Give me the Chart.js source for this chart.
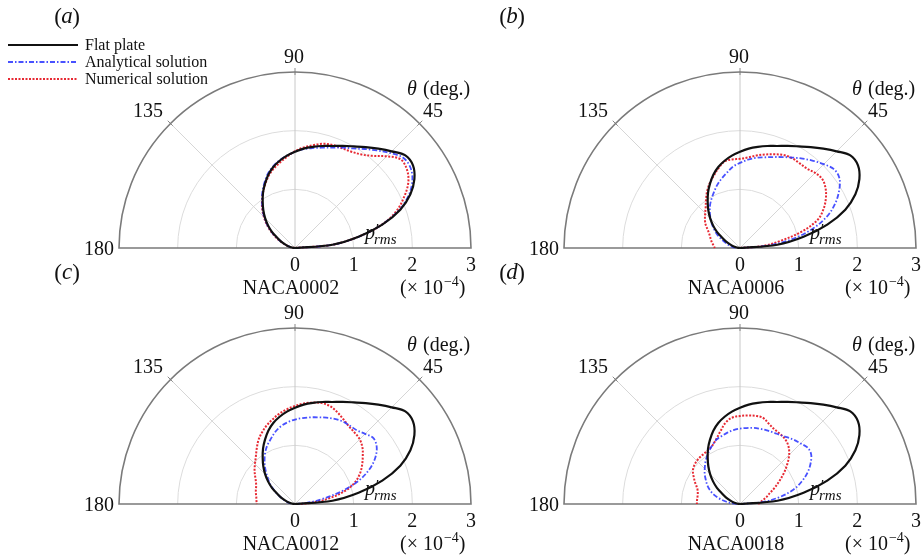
<!DOCTYPE html>
<html>
<head>
<meta charset="utf-8">
<script src="https://cdn.jsdelivr.net/npm/chart.js@4.4.1/dist/chart.umd.min.js"></script>
<style>
  body { margin: 0; background: #fff; }
  .panel { position: absolute; }
</style>
</head>
<body>
<div class="panel" style="left:0px;top:0px"><canvas id="pa" width="480" height="300"></canvas></div>
<div class="panel" style="left:440px;top:0px"><canvas id="pb" width="483" height="300"></canvas></div>
<div class="panel" style="left:0px;top:256px"><canvas id="pc" width="480" height="300"></canvas></div>
<div class="panel" style="left:440px;top:256px"><canvas id="pd" width="483" height="300"></canvas></div>
<script>
// polar angle (deg) and p'rms (x 1e-4)
const thetaDeg = [0,5,10,15,20,25,30,35,40,45,50,55,60,65,70,75,80,85,90,95,100,105,110,115,120,125,130,135,140,145,150,155,160,165,170,175,180];

const flatPlate = [0,0.64,1.10,1.54,1.91,2.17,2.35,2.455,2.455,2.33,2.21,2.10,2.00,1.92,1.85,1.80,1.75,1.70,1.64,1.58,1.51,1.43,1.33,1.21,1.09,0.96,0.84,0.72,0.60,0.48,0.35,0.26,0.18,0.12,0.07,0.03,0];

const analytical0002 = [0,0.64,1.10,1.53,1.89,2.14,2.31,2.40,2.40,2.29,2.17,2.06,1.96,1.89,1.82,1.77,1.73,1.69,1.64,1.58,1.52,1.44,1.35,1.23,1.11,0.98,0.86,0.74,0.62,0.50,0.37,0.27,0.19,0.12,0.07,0.03,0];
const numerical0002 = [0,0.64,1.09,1.53,1.84,2.05,2.23,2.33,2.35,2.21,2.05,1.95,1.90,1.88,1.87,1.84,1.78,1.72,1.65,1.56,1.48,1.40,1.31,1.20,1.09,0.98,0.87,0.75,0.63,0.51,0.39,0.28,0.19,0.12,0.07,0.03,0];

const analytical0006 = [0,0.50,0.93,1.29,1.58,1.79,1.95,2.07,2.09,2.02,1.94,1.86,1.78,1.71,1.65,1.60,1.56,1.51,1.45,1.39,1.30,1.22,1.14,1.05,0.97,0.89,0.80,0.71,0.62,0.53,0.44,0.34,0.26,0.20,0.14,0.08,0];
const numerical0006 = [0,0.40,0.70,1.10,1.41,1.57,1.69,1.78,1.83,1.81,1.77,1.765,1.77,1.75,1.70,1.65,1.60,1.55,1.52,1.515,1.50,1.41,1.31,1.22,1.12,1.01,0.91,0.84,0.78,0.72,0.64,0.58,0.54,0.51,0.48,0.45,0.43];

const analytical0012 = [0,0.20,0.45,0.81,1.15,1.40,1.58,1.70,1.745,1.69,1.64,1.63,1.625,1.60,1.565,1.53,1.50,1.47,1.44,1.40,1.35,1.28,1.19,1.11,1.015,0.905,0.79,0.67,0.57,0.46,0.36,0.27,0.19,0.14,0.09,0.05,0];
const numerical0012 = [0.10,0.33,0.62,0.90,1.09,1.22,1.32,1.41,1.50,1.56,1.585,1.61,1.66,1.72,1.77,1.78,1.755,1.72,1.67,1.62,1.56,1.49,1.42,1.34,1.25,1.14,1.04,0.965,0.90,0.83,0.77,0.73,0.71,0.69,0.67,0.66,0.65];

const analytical0018 = [0,0.40,0.69,0.94,1.12,1.27,1.39,1.48,1.50,1.46,1.43,1.39,1.36,1.345,1.335,1.327,1.318,1.30,1.285,1.265,1.235,1.20,1.17,1.11,1.05,0.985,0.92,0.85,0.785,0.71,0.645,0.57,0.48,0.37,0.245,0.12,0];
const numerical0018 = [0.31,0.35,0.40,0.47,0.54,0.65,0.77,0.91,1.05,1.185,1.285,1.345,1.375,1.40,1.45,1.52,1.525,1.515,1.50,1.48,1.41,1.285,1.18,1.105,1.07,1.055,1.05,1.04,1.02,0.98,0.91,0.84,0.775,0.745,0.735,0.735,0.735];

const seriesNames = ['Flat plate', 'Analytical solution', 'Numerical solution'];
const airfoils = ['NACA0002', 'NACA0006', 'NACA0012', 'NACA0018'];
const panelTags = ['a', 'b', 'c', 'd'];
const radialTicks = ['0', '1', '2', '3'];
const angleLabels = ['45', '90', '135'];

const SERIF = '"Liberation Serif", "DejaVu Serif", serif';

function toPoints(r) {
    return thetaDeg.map(function(t, i) {
        const a = t * Math.PI / 180;
        return { x: r[i] * Math.cos(a), y: r[i] * Math.sin(a) };
    });
}

const polarFrame = {
    id: 'polarFrame',
    beforeDatasetsDraw(chart) {
        const ctx = chart.ctx;
        const xs = chart.scales.x, ys = chart.scales.y;
        const cx = xs.getPixelForValue(0), cy = ys.getPixelForValue(0);
        const R = xs.getPixelForValue(3) - cx;
        ctx.save();
        // inner rings
        ctx.strokeStyle = '#dcdcdc';
        ctx.lineWidth = 1;
        [1, 2].forEach(function(k) {
            ctx.beginPath();
            ctx.arc(cx, cy, R * k / 3, Math.PI, 2 * Math.PI);
            ctx.stroke();
        });
        // spokes
        [45, 90, 135].forEach(function(d) {
            const a = d * Math.PI / 180;
            ctx.strokeStyle = d === 90 ? '#c8c8c8' : '#d6d6d6';
            ctx.beginPath();
            ctx.moveTo(cx, cy);
            ctx.lineTo(cx + R * Math.cos(a), cy - R * Math.sin(a));
            ctx.stroke();
            ctx.strokeStyle = '#888';
            ctx.beginPath();
            ctx.moveTo(cx + (R - 3) * Math.cos(a), cy - (R - 3) * Math.sin(a));
            ctx.lineTo(cx + (R + 4) * Math.cos(a), cy - (R + 4) * Math.sin(a));
            ctx.stroke();
        });
        // outer arc and base line
        ctx.strokeStyle = '#7a7a7a';
        ctx.lineWidth = 1.6;
        ctx.beginPath();
        ctx.arc(cx, cy, R, Math.PI, 2 * Math.PI);
        ctx.closePath();
        ctx.stroke();
        ctx.restore();
    },
    afterDraw(chart, args, opts) {
        const ctx = chart.ctx;
        const xs = chart.scales.x, ys = chart.scales.y;
        const cx = xs.getPixelForValue(0), cy = ys.getPixelForValue(0);
        const R = xs.getPixelForValue(3) - cx;
        ctx.save();
        ctx.fillStyle = '#111';
        ctx.font = '20px ' + SERIF;
        ctx.textBaseline = 'middle';
        ctx.textAlign = 'center';
        radialTicks.forEach(function(t, i) {
            ctx.fillText(t, xs.getPixelForValue(i), cy + 18);
        });
        ctx.textAlign = 'right';
        ctx.fillText('180', cx - R - 5, cy + 2);
        ctx.textAlign = 'center';
        ctx.fillText(angleLabels[0], cx + 138, cy - 136);
        ctx.fillText(angleLabels[1], cx - 1, cy - 190);
        ctx.fillText(angleLabels[2], cx - 147, cy - 136);

        // theta (deg.)
        ctx.textAlign = 'left';
        ctx.font = 'italic 20px ' + SERIF;
        ctx.fillText('\u03b8', cx + 112, cy - 158);
        ctx.font = '20px ' + SERIF;
        ctx.fillText(' (deg.)', cx + 123, cy - 158);

        // airfoil name and scale factor
        ctx.textAlign = 'center';
        ctx.fillText(opts.airfoil, cx - 4, cy + 41);
        ctx.textAlign = 'left';
        let x0 = cx + 105;
        ctx.fillText('(\u00d7 10', x0, cy + 41);
        x0 += ctx.measureText('(\u00d7 10').width;
        ctx.font = '14px ' + SERIF;
        ctx.fillText('\u22124', x0 + 1, cy + 34);
        x0 += ctx.measureText('\u22124').width + 1;
        ctx.font = '20px ' + SERIF;
        ctx.fillText(')', x0, cy + 41);

        // p'_rms
        ctx.textBaseline = 'alphabetic';
        ctx.font = 'italic 20px ' + SERIF;
        ctx.fillText('p', cx + 70, cy - 9);
        ctx.font = 'italic 15px ' + SERIF;
        ctx.fillText('\u2032', cx + 80, cy - 14);
        ctx.fillText('rms', cx + 79, cy - 4);

        // panel tag
        ctx.textBaseline = 'middle';
        ctx.textAlign = 'center';
        ctx.font = '23px ' + SERIF;
        ctx.fillText('(', cx - 237, cy - 230);
        ctx.fillText(')', cx - 219, cy - 230);
        ctx.font = 'italic 23px ' + SERIF;
        ctx.fillText(opts.tag, cx - 228, cy - 231);

        if (opts.legend) {
            const ds = chart.data.datasets;
            const rows = [45, 62, 79];
            ds.forEach(function(d, i) {
                ctx.strokeStyle = d.borderColor;
                ctx.lineWidth = d.borderWidth;
                ctx.setLineDash(d.borderDash || []);
                ctx.beginPath();
                ctx.moveTo(8, rows[i]);
                ctx.lineTo(78, rows[i]);
                ctx.stroke();
                ctx.setLineDash([]);
                ctx.fillStyle = '#111';
                ctx.textAlign = 'left';
                ctx.font = '16px ' + SERIF;
                ctx.fillText(d.label, 85, rows[i] + 1);
            });
        }
        ctx.restore();
    }
};

function makePanel(id, idx, analytical, numerical, padLeft, padRight) {
    const ctx = document.getElementById(id).getContext('2d');
    return new Chart(ctx, {
        type: 'scatter',
        data: {
            datasets: [{
                label: seriesNames[0],
                data: toPoints(flatPlate),
                borderColor: '#111111',
                borderWidth: 2.2,
                showLine: true,
                tension: 0.35,
                pointRadius: 0,
                clip: false
            }, {
                label: seriesNames[1],
                data: toPoints(analytical),
                borderColor: 'rgba(40, 50, 255, 0.85)',
                borderWidth: 1.8,
                borderDash: [5, 2, 1.5, 2],
                showLine: true,
                tension: 0.35,
                pointRadius: 0,
                clip: false
            }, {
                label: seriesNames[2],
                data: toPoints(numerical),
                borderColor: 'rgba(230, 30, 40, 0.95)',
                borderWidth: 2,
                borderDash: [2, 1.5],
                showLine: true,
                tension: 0.35,
                pointRadius: 0,
                clip: false
            }]
        },
        options: {
            responsive: false,
            animation: false,
            layout: { padding: { left: padLeft, right: padRight, top: 72, bottom: 52 } },
            scales: {
                x: { type: 'linear', min: -3, max: 3, display: false },
                y: { type: 'linear', min: 0, max: 3, display: false }
            },
            plugins: {
                legend: { display: false },
                tooltip: { enabled: false },
                polarFrame: { tag: panelTags[idx], airfoil: airfoils[idx], legend: idx === 0 }
            }
        },
        plugins: [polarFrame]
    });
}

makePanel('pa', 0, analytical0002, numerical0002, 119, 9);
makePanel('pb', 1, analytical0006, numerical0006, 124, 7);
makePanel('pc', 2, analytical0012, numerical0012, 119, 9);
makePanel('pd', 3, analytical0018, numerical0018, 124, 7);
</script>
</body>
</html>
